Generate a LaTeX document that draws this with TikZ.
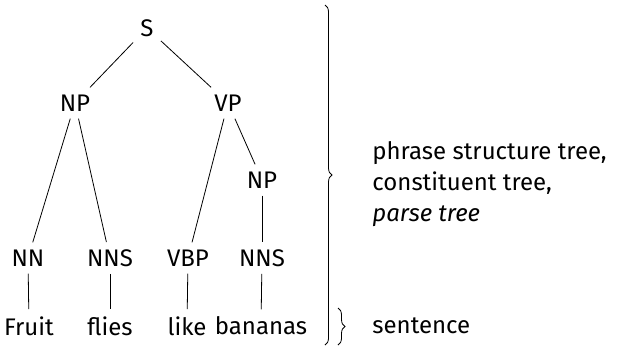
\documentclass[tikz,border=0pt,12pt]{standalone}
\usepackage{fontspec}
\setmainfont{Fira Sans}
\usetikzlibrary{positioning}
\usetikzlibrary{decorations.pathreplacing}

\begin{document}
\begin{tikzpicture}[x=0.5pt,y=-0.5pt,
    tag/.style={inner sep=3.5pt, font=\fontsize{12}{14}\selectfont},
    word/.style={inner sep=3.5pt, font=\fontsize{12}{14}\selectfont},
    brc/.style={decorate, decoration={brace, amplitude=3.5pt}, thin}]
            \useasboundingbox (0,0) rectangle (636,349);
            % phrase structure
            \node[tag] (s) at (147,28) {S};
            \node[tag] (np) at (75,103) {NP};
            \node[tag] (vp) at (228,103) {VP};
            \node[tag] (npb) at (262,180) {NP};
            \node[tag] (nn) at (28,258) {NN};
            \node[tag] (nns) at (110,258) {NNS};
            \node[tag] (vbp) at (188,258) {VBP};
            \node[tag] (nnsb) at (262,258) {NNS};
            % words
            \node[word] (fruit) at (29,326) {Fruit};
            \node[word] (flies) at (110,326) {flies};
            \node[word] (like) at (187,326) {like};
            \node[word] (bananas) at (261,326) {bananas};

            \draw (s) -- (np);
            \draw (s) -- (vp);
            \draw (np) -- (nn);
            \draw (np) -- (nns);
            \draw (vp) -- (vbp);
            \draw (vp) -- (npb);
            \draw (npb) -- (nnsb);
            \draw (nn) -- (fruit);
            \draw (nns) -- (flies);
            \draw (vbp) -- (like);
            \draw (nnsb) -- (bananas);

            % braces
            \coordinate (treetop) at (325,5);
            \coordinate (treebot) at (325,345);
            \coordinate (senttop) at (338,308);
            \coordinate (sentbot) at (338,345);
            \draw[brc] (treetop) -- (treebot);
            \draw[brc] (senttop) -- (sentbot);
            \node[anchor=west, align=left, inner sep=0pt, font=\fontsize{12}{15.5}\selectfont] (treelbl) at (372,184)
                {phrase structure tree,\\constituent tree,\\\emph{parse tree}};
            \node[anchor=west, inner sep=0pt, font=\fontsize{12}{14}\selectfont] (sentlbl) at (372,326) {sentence};
        \end{tikzpicture}
\end{document}
